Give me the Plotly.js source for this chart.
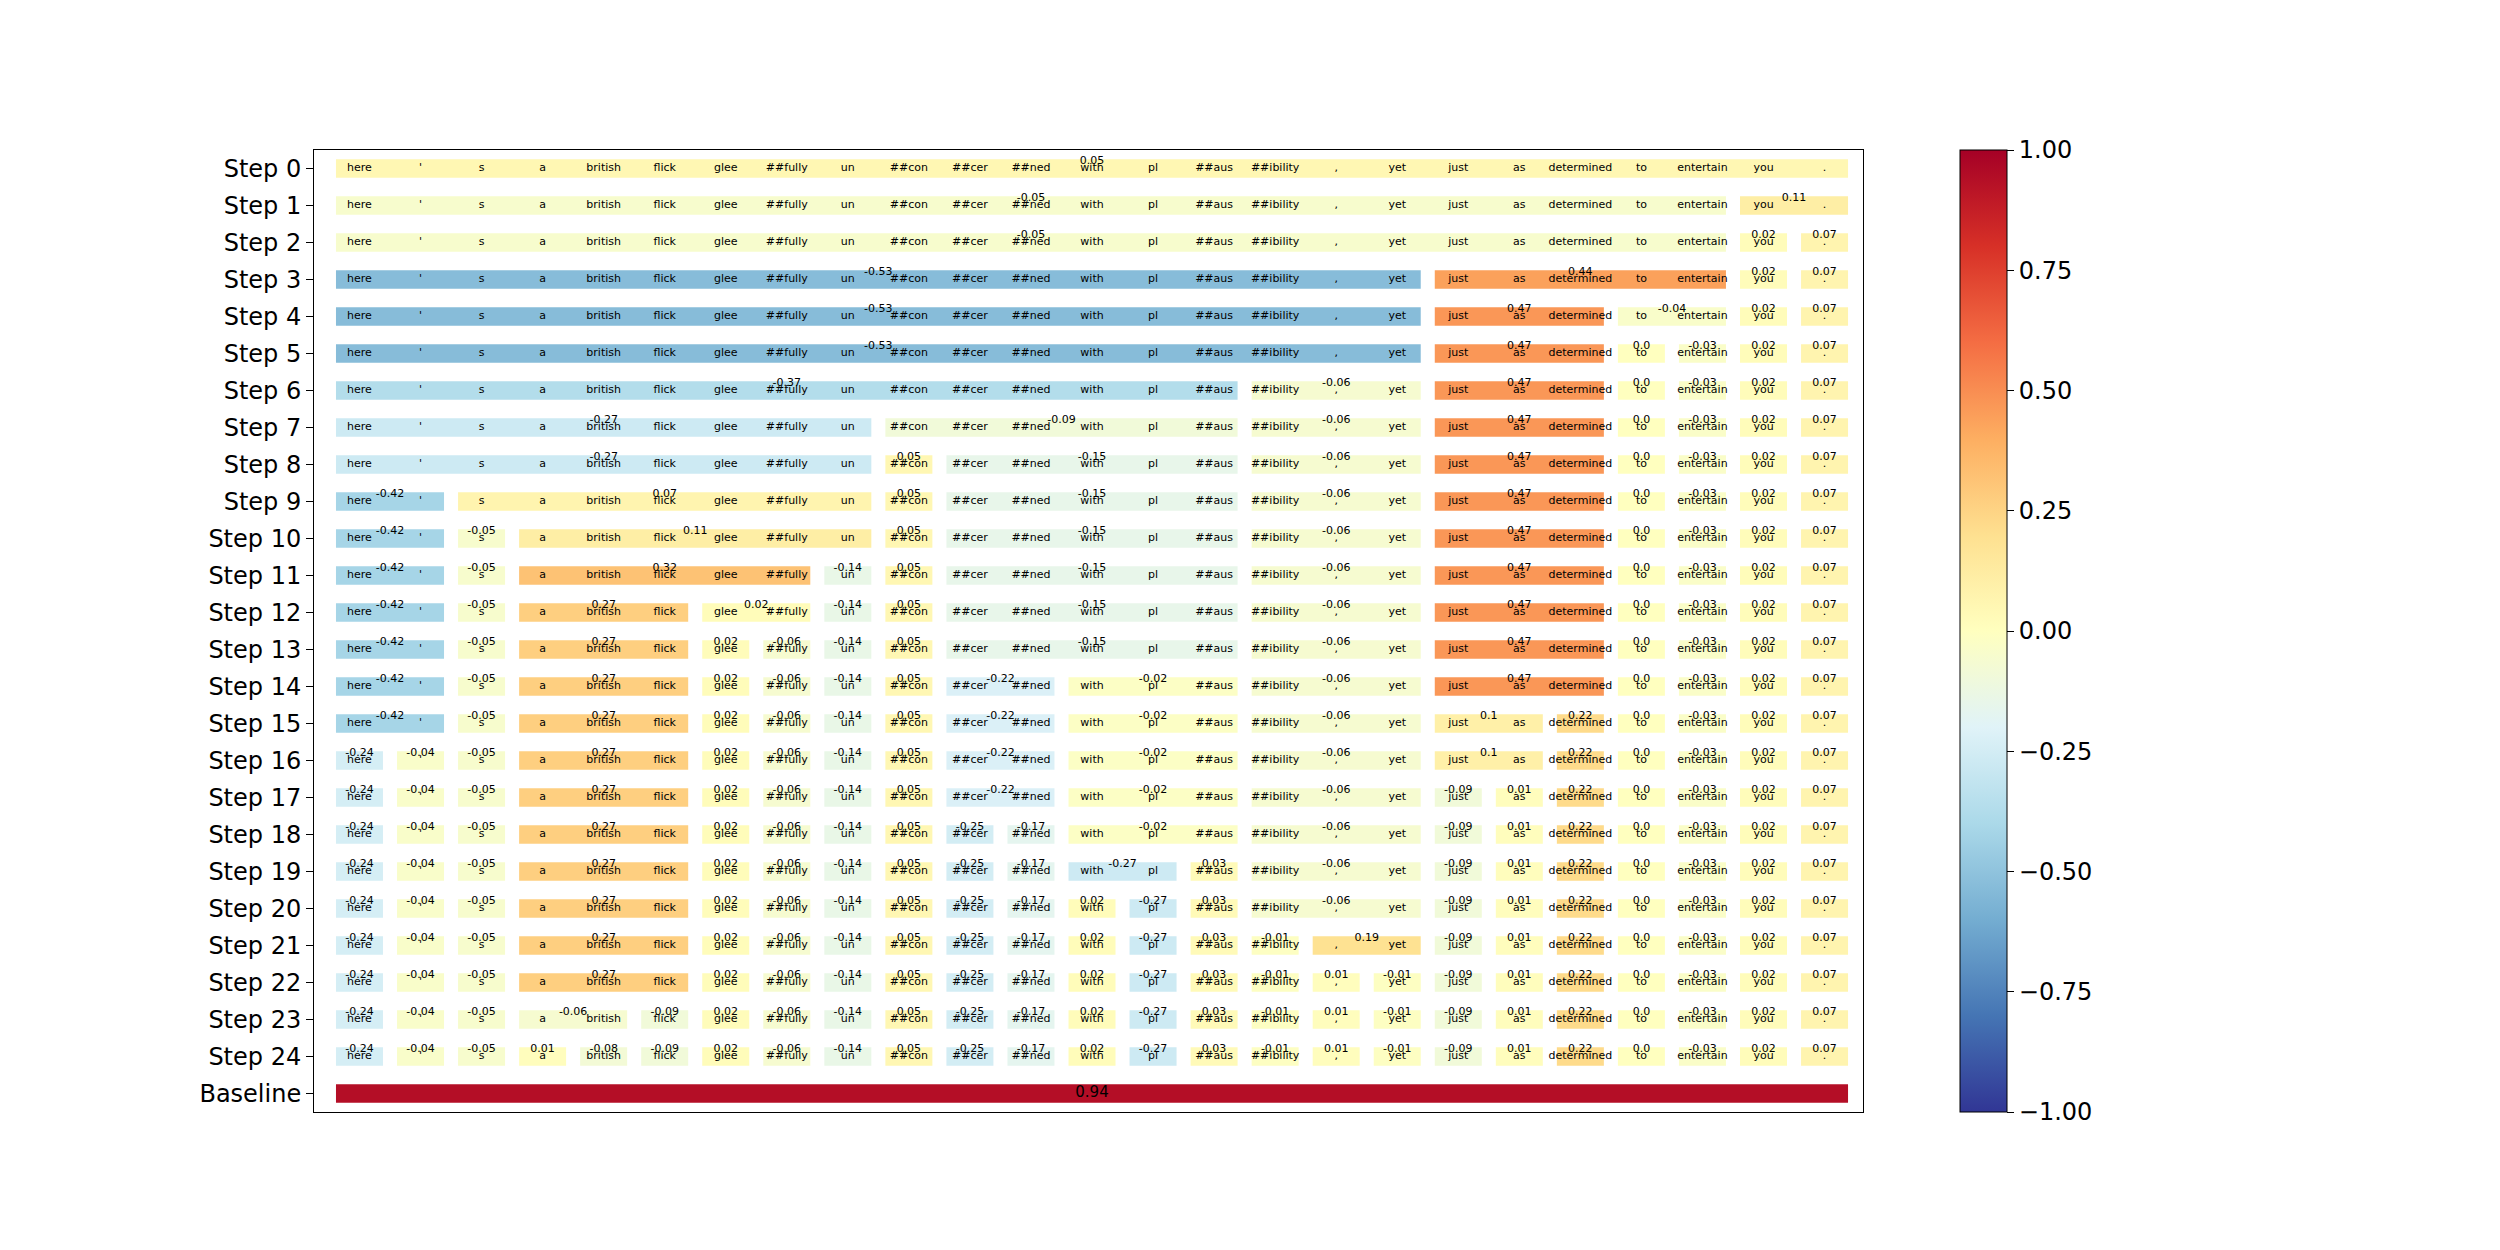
<!DOCTYPE html>
<html>
<head>
<meta charset="utf-8">
<script src="https://cdn.plot.ly/plotly-3.0.1.min.js"></script>
<style>html,body{margin:0;padding:0;background:#fff;}#chart{width:2500px;height:1250px;}</style>
</head>
<body>
<div id="chart"></div>
<script>
const tokens = ["here","'","s","a","british","flick","glee","##fully","un","##con","##cer","##ned","with","pl","##aus","##ibility",",","yet","just","as","determined","to","entertain","you","."];

const rowLabels = ["Step 0","Step 1","Step 2","Step 3","Step 4","Step 5","Step 6","Step 7","Step 8","Step 9","Step 10","Step 11","Step 12","Step 13","Step 14","Step 15","Step 16","Step 17","Step 18","Step 19","Step 20","Step 21","Step 22","Step 23","Step 24","Baseline"];

// number of consecutive tokens in each group, per row
const groupSizes = [
  [25],
  [23,2],
  [23,1,1],
  [18,5,1,1],
  [18,3,2,1,1],
  [18,3,1,1,1,1],
  [15,3,3,1,1,1,1],
  [9,6,3,3,1,1,1,1],
  [9,1,5,3,3,1,1,1,1],
  [2,7,1,5,3,3,1,1,1,1],
  [2,1,6,1,5,3,3,1,1,1,1],
  [2,1,5,1,1,5,3,3,1,1,1,1],
  [2,1,3,2,1,1,5,3,3,1,1,1,1],
  [2,1,3,1,1,1,1,5,3,3,1,1,1,1],
  [2,1,3,1,1,1,1,2,3,3,3,1,1,1,1],
  [2,1,3,1,1,1,1,2,3,3,2,1,1,1,1,1],
  [1,1,1,3,1,1,1,1,2,3,3,2,1,1,1,1,1],
  [1,1,1,3,1,1,1,1,2,3,3,1,1,1,1,1,1,1],
  [1,1,1,3,1,1,1,1,1,1,3,3,1,1,1,1,1,1,1],
  [1,1,1,3,1,1,1,1,1,1,2,1,3,1,1,1,1,1,1,1],
  [1,1,1,3,1,1,1,1,1,1,1,1,1,3,1,1,1,1,1,1,1],
  [1,1,1,3,1,1,1,1,1,1,1,1,1,1,2,1,1,1,1,1,1,1],
  [1,1,1,3,1,1,1,1,1,1,1,1,1,1,1,1,1,1,1,1,1,1,1],
  [1,1,1,2,1,1,1,1,1,1,1,1,1,1,1,1,1,1,1,1,1,1,1,1],
  [1,1,1,1,1,1,1,1,1,1,1,1,1,1,1,1,1,1,1,1,1,1,1,1,1],
  [25]
];

// attribution value of each group, per row
const groupValues = [
  [0.05],
  [-0.05,0.11],
  [-0.05,0.02,0.07],
  [-0.53,0.44,0.02,0.07],
  [-0.53,0.47,-0.04,0.02,0.07],
  [-0.53,0.47,0.0,-0.03,0.02,0.07],
  [-0.37,-0.06,0.47,0.0,-0.03,0.02,0.07],
  [-0.27,-0.09,-0.06,0.47,0.0,-0.03,0.02,0.07],
  [-0.27,0.05,-0.15,-0.06,0.47,0.0,-0.03,0.02,0.07],
  [-0.42,0.07,0.05,-0.15,-0.06,0.47,0.0,-0.03,0.02,0.07],
  [-0.42,-0.05,0.11,0.05,-0.15,-0.06,0.47,0.0,-0.03,0.02,0.07],
  [-0.42,-0.05,0.32,-0.14,0.05,-0.15,-0.06,0.47,0.0,-0.03,0.02,0.07],
  [-0.42,-0.05,0.27,0.02,-0.14,0.05,-0.15,-0.06,0.47,0.0,-0.03,0.02,0.07],
  [-0.42,-0.05,0.27,0.02,-0.06,-0.14,0.05,-0.15,-0.06,0.47,0.0,-0.03,0.02,0.07],
  [-0.42,-0.05,0.27,0.02,-0.06,-0.14,0.05,-0.22,-0.02,-0.06,0.47,0.0,-0.03,0.02,0.07],
  [-0.42,-0.05,0.27,0.02,-0.06,-0.14,0.05,-0.22,-0.02,-0.06,0.1,0.22,0.0,-0.03,0.02,0.07],
  [-0.24,-0.04,-0.05,0.27,0.02,-0.06,-0.14,0.05,-0.22,-0.02,-0.06,0.1,0.22,0.0,-0.03,0.02,0.07],
  [-0.24,-0.04,-0.05,0.27,0.02,-0.06,-0.14,0.05,-0.22,-0.02,-0.06,-0.09,0.01,0.22,0.0,-0.03,0.02,0.07],
  [-0.24,-0.04,-0.05,0.27,0.02,-0.06,-0.14,0.05,-0.25,-0.17,-0.02,-0.06,-0.09,0.01,0.22,0.0,-0.03,0.02,0.07],
  [-0.24,-0.04,-0.05,0.27,0.02,-0.06,-0.14,0.05,-0.25,-0.17,-0.27,0.03,-0.06,-0.09,0.01,0.22,0.0,-0.03,0.02,0.07],
  [-0.24,-0.04,-0.05,0.27,0.02,-0.06,-0.14,0.05,-0.25,-0.17,0.02,-0.27,0.03,-0.06,-0.09,0.01,0.22,0.0,-0.03,0.02,0.07],
  [-0.24,-0.04,-0.05,0.27,0.02,-0.06,-0.14,0.05,-0.25,-0.17,0.02,-0.27,0.03,-0.01,0.19,-0.09,0.01,0.22,0.0,-0.03,0.02,0.07],
  [-0.24,-0.04,-0.05,0.27,0.02,-0.06,-0.14,0.05,-0.25,-0.17,0.02,-0.27,0.03,-0.01,0.01,-0.01,-0.09,0.01,0.22,0.0,-0.03,0.02,0.07],
  [-0.24,-0.04,-0.05,-0.06,-0.09,0.02,-0.06,-0.14,0.05,-0.25,-0.17,0.02,-0.27,0.03,-0.01,0.01,-0.01,-0.09,0.01,0.22,0.0,-0.03,0.02,0.07],
  [-0.24,-0.04,-0.05,0.01,-0.08,-0.09,0.02,-0.06,-0.14,0.05,-0.25,-0.17,0.02,-0.27,0.03,-0.01,0.01,-0.01,-0.09,0.01,0.22,0.0,-0.03,0.02,0.07],
  [0.94]
];

const colorbarTickVals = [-1,-0.75,-0.5,-0.25,0,0.25,0.5,0.75,1];
const colorbarTickText = ["\u22121.00","\u22120.75","\u22120.50","\u22120.25","0.00","0.25","0.50","0.75","1.00"];

// matplotlib RdYlBu, reversed so that +1 is red
const rdylbuR = ["#313695","#4575b4","#74add1","#abd9e9","#e0f3f8","#ffffbf","#fee090","#fdae61","#f46d43","#d73027","#a50026"];
const colorscale = rdylbuR.map((c,i)=>[i/(rdylbuR.length-1), c]);

const FONT = "DejaVu Sans";
const HALF = 0.385;     // half width of a single-token box (in token units)
const LABEL_UP = 0.2;   // value label lift (in row units)

function fmt(v){ return Number.isInteger(v) ? v.toFixed(1) : String(v); }

const barX = [], barBase = [], barY = [], barC = [];
const labX = [], labY = [], labT = [];
const tokX = [], tokY = [], tokT = [];
const baseRow = rowLabels.length - 1;

groupSizes.forEach((sizes, r) => {
  let start = 0;
  sizes.forEach((n, g) => {
    const end = start + n - 1;
    const v = groupValues[r][g];
    barBase.push(start - HALF);
    barX.push(end - start + 2*HALF);
    barY.push(r);
    barC.push(v);
    if (r !== baseRow) {
      labX.push((start + end)/2);
      labY.push(r - LABEL_UP);
      labT.push(fmt(v));
    }
    start = end + 1;
  });
  if (r !== baseRow) {
    tokens.forEach((t, i) => { tokX.push(i); tokY.push(r); tokT.push(t); });
  }
});

const traces = [
  {
    type: "bar", orientation: "h",
    x: barX, base: barBase, y: barY, width: 0.5,
    marker: {
      color: barC, colorscale: colorscale, cmin: -1, cmax: 1, line: {width: 0},
      showscale: true,
      colorbar: {
        x: 1.0623, xanchor: "left", y: 0.5, yanchor: "middle",
        len: 1, lenmode: "fraction", thickness: 47, thicknessmode: "pixels",
        xpad: 0, ypad: 0, outlinewidth: 1, outlinecolor: "#000",
        tickmode: "array", tickvals: colorbarTickVals, ticktext: colorbarTickText,
        ticks: "outside", ticklen: 7, tickwidth: 1, tickcolor: "#000",
        tickfont: {family: FONT, size: 24, color: "#000"}
      }
    },
    hoverinfo: "skip", showlegend: false
  },
  {
    type: "scatter", mode: "text", x: tokX, y: tokY, text: tokT,
    textposition: "middle center",
    textfont: {family: FONT, size: 11, color: "#000"},
    hoverinfo: "skip", showlegend: false, cliponaxis: false
  },
  {
    type: "scatter", mode: "text", x: labX, y: labY, text: labT,
    textposition: "middle center",
    textfont: {family: FONT, size: 11, color: "#000"},
    hoverinfo: "skip", showlegend: false, cliponaxis: false
  },
  {
    type: "scatter", mode: "text",
    x: [(tokens.length - 1)/2], y: [baseRow], text: [fmt(groupValues[baseRow][0])],
    textposition: "middle center",
    textfont: {family: FONT, size: 15, color: "#000"},
    hoverinfo: "skip", showlegend: false
  }
];

const layout = {
  width: 2500, height: 1250,
  margin: {l: 314, r: 637, t: 150, b: 138, pad: 0},
  paper_bgcolor: "#fff", plot_bgcolor: "#fff",
  barmode: "overlay",
  font: {family: FONT, color: "#000"},
  xaxis: {
    range: [-0.745, 24.63], showgrid: false, zeroline: false,
    showticklabels: false, ticks: "",
    showline: true, mirror: true, linecolor: "#000", linewidth: 1
  },
  yaxis: {
    range: [25.5, -0.5], showgrid: false, zeroline: false,
    tickmode: "array", tickvals: rowLabels.map((_, i) => i), ticktext: rowLabels,
    ticks: "outside", ticklen: 7, tickwidth: 1, tickcolor: "#000",
    tickfont: {family: FONT, size: 24, color: "#000"},
    showline: true, mirror: true, linecolor: "#000", linewidth: 1
  }
};

Plotly.newPlot("chart", traces, layout, {displayModeBar: false, staticPlot: true});
</script>
</body>
</html>
